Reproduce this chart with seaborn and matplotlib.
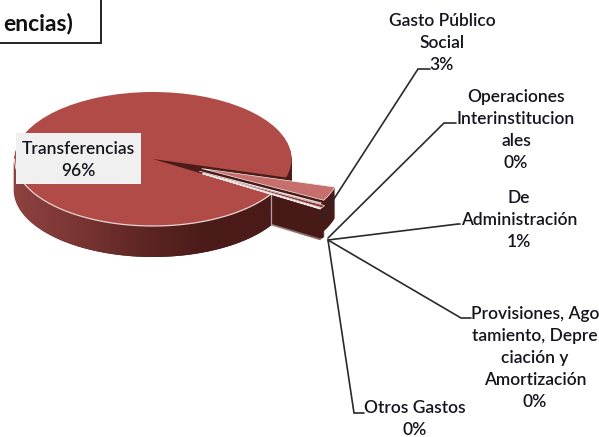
import numpy as np
import matplotlib
matplotlib.use("Agg")
import matplotlib.pyplot as plt
from matplotlib.colors import LinearSegmentedColormap
from matplotlib.patches import Polygon, Rectangle
import seaborn as sns

# ---- data -----
categories = ["Gasto Público\nSocial", "Operaciones\nInterinstitucion\nales", "De\nAdministración",
              "Provisiones, Ago\ntamiento, Depre\nciación y\nAmortización", "Otros Gastos", "Transferencias"]
values = [3.4, 0.2, 0.6, 0.1, 0.1, 95.6]
face_colors = ["#C76F6C", "#C76F6C", "#8E3431", "#8E3431", "#8E3431", "#B14B48"]
explode = [0.38, 0.38, 0.42, 0.42, 0.42, 0.0]
title_text = "encias)"

# ---- layout (pixels of the 599x437 picture) ----
W, H = 599, 437
cx, cy, rx, ry = 153, 159, 138.5, 67
depth_px = 31
start = -16

sns.set_theme(style="white")
plt.rcParams["font.family"] = ["Lato", "DejaVu Sans"]

fig = plt.figure(figsize=(W / 100, H / 100), dpi=100, facecolor="white")
ax = fig.add_axes([0, 0, 1, 1])
depth = depth_px / ry

common = dict(startangle=start, counterclock=False, explode=explode, normalize=True)
n = depth_px

# extrusion of the main slice: stacked copies of the pie, deepest first
main_side = "#4C1C1A"
for k in range(n, 0, -1):
    ax.pie(values, center=(0, -k * depth / n), colors=["none"] * 5 + [main_side],
           wedgeprops=dict(linewidth=0, zorder=1), **common)

# extrusion of the pulled-out slices (behind the main slice's wall and face)
for k in range(n, 0, -1):
    ax.pie(values, center=(0, -k * depth / n), colors=["#471917"] * 5 + ["none"],
           wedgeprops=dict(linewidth=0, zorder=1.2), **common)

# main top face
w_main, _ = ax.pie(values, colors=["none"] * 5 + [face_colors[-1]],
                   wedgeprops=dict(linewidth=0, zorder=2), **common)
main = w_main[-1]
front_end = np.radians(main.theta2)

# gradient front wall of the main slice
t = np.linspace(-np.pi, front_end, 200)
wall = np.r_[np.c_[np.cos(t), np.sin(t)], np.c_[np.cos(t[::-1]), np.sin(t[::-1]) - depth]]
wall[:, 0] *= 1.006
clip = Polygon(wall, closed=True, transform=ax.transData, facecolor="none", edgecolor="none")
ax.add_patch(clip)
cmap = LinearSegmentedColormap.from_list("wall", ["#8E4240", "#7A3533", "#5E2624", "#4A1B19", "#4A1B19"])
im = ax.imshow(np.linspace(0, 1, 256)[None, :], extent=(-1.01, np.cos(front_end), -1 - depth, 0.2),
               cmap=cmap, aspect="auto", zorder=1.5)
im.set_clip_path(clip)
ax.plot(np.cos(t), np.sin(t), color="#E9D6D5", lw=0.9, zorder=2.2)
ax.plot([np.cos(front_end)] * 2, [np.sin(front_end), np.sin(front_end) - depth],
        color="#B9A4A3", lw=0.9, zorder=2.2)

# top of the pulled-out slices
w_top, _ = ax.pie(values, colors=face_colors[:5] + ["none"],
                  wedgeprops=dict(linewidth=0, zorder=4), **common)
for w in w_top[:5]:
    w.set_edgecolor("#F4ECEC")
    w.set_linewidth(0.5)

ax.set_aspect("auto")
ax.set_xlim((0 - cx) / rx, (W - cx) / rx)
ax.set_ylim((cy - H) / ry, cy / ry)
ax.axis("off")

# overlay in picture pixels: leader lines, labels, title box
ov = fig.add_axes([0, 0, 1, 1], facecolor="none")
ov.set_xlim(0, W)
ov.set_ylim(H, 0)
ov.axis("off")

leaders = [
    ([430, 418, 319], [69, 69, 222]),
    ([456, 444, 328], [123, 123, 238]),
    ([460, 458, 328], [224, 224, 240]),
    ([471, 461, 328], [318, 318, 240]),
    ([364, 354, 328], [413, 413, 240]),
]
for xs, ys in leaders:
    ov.plot(xs, ys, color="#2A2A2A", lw=1.2, solid_joinstyle="miter", zorder=5)

total = sum(values)
pct = [f"{v / total:.0%}" for v in values]
positions = [(442, 43), (516, 130), (519, 220), (535, 358), (415, 419)]
text_kw = dict(ha="center", va="center", fontsize=12.5, color="#15151F", linespacing=1.47,
               fontweight="semibold", zorder=6)
for name, p, (x, y) in zip(categories[:5], pct[:5], positions):
    ov.text(x, y, f"{name}\n{p}", **text_kw)

ov.add_patch(Rectangle((16, 133), 124.5, 51, facecolor="#F0F0F0", edgecolor="none", zorder=5))
ov.text(78, 160, f"{categories[-1]}\n{pct[-1]}", **text_kw)

ov.add_patch(Rectangle((-5, -5), 106, 48, facecolor="white", edgecolor="#222222", lw=1.4, zorder=5))
ov.text(73, 23, title_text, ha="right", va="center", fontsize=16.5, fontweight="bold",
        color="#111111", zorder=6)

fig.savefig("out.png", dpi=100, facecolor="white")
